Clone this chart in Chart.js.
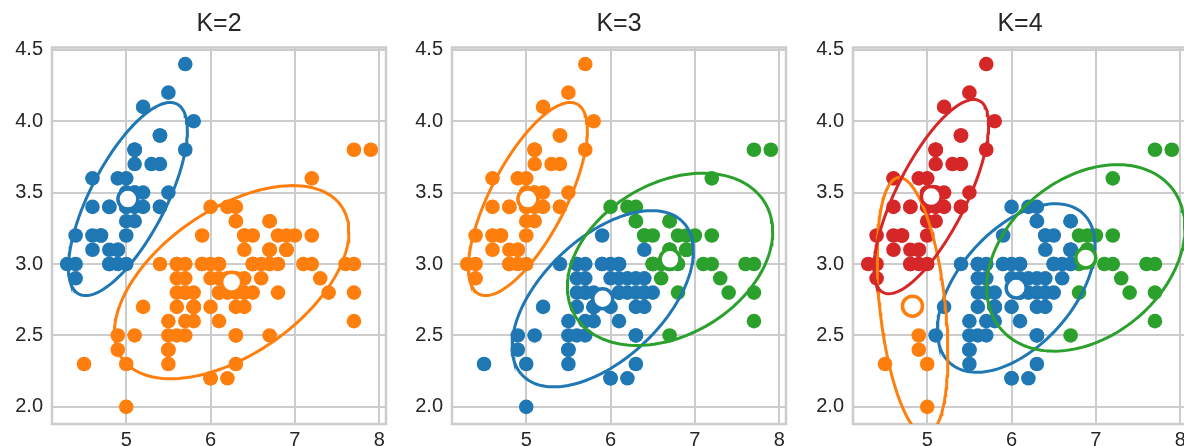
<!DOCTYPE html>
<html><head><meta charset="utf-8">
<script src="https://cdn.jsdelivr.net/npm/chart.js@4.4.1/dist/chart.umd.min.js"></script>
<style>
html,body{margin:0;padding:0;background:#fff;width:1184px;height:446px;overflow:hidden;position:relative;}
.panel{position:absolute;top:0;width:400px;height:446px;}
canvas{display:block;}
</style></head><body>
<div class="panel" style="left:0px"><canvas id="c0" width="400" height="446"></canvas></div>
<div class="panel" style="left:400px"><canvas id="c1" width="400" height="446"></canvas></div>
<div class="panel" style="left:801px"><canvas id="c2" width="400" height="446"></canvas></div>
<script>
// Iris sepal length / sepal width (150 flowers)
const sepalLength = [5.1,4.9,4.7,4.6,5.0,5.4,4.6,5.0,4.4,4.9,5.4,4.8,4.8,4.3,5.8,5.7,5.4,5.1,5.7,5.1,5.4,5.1,4.6,5.1,4.8,5.0,5.0,5.2,5.2,4.7,4.8,5.4,5.2,5.5,4.9,5.0,5.5,4.9,4.4,5.1,5.0,4.5,4.4,5.0,5.1,4.8,5.1,4.6,5.3,5.0,
7.0,6.4,6.9,5.5,6.5,5.7,6.3,4.9,6.6,5.2,5.0,5.9,6.0,6.1,5.6,6.7,5.6,5.8,6.2,5.6,5.9,6.1,6.3,6.1,6.4,6.6,6.8,6.7,6.0,5.7,5.5,5.5,5.8,6.0,5.4,6.0,6.7,6.3,5.6,5.5,5.5,6.1,5.8,5.0,5.6,5.7,5.7,6.2,5.1,5.7,
6.3,5.8,7.1,6.3,6.5,7.6,4.9,7.3,6.7,7.2,6.5,6.4,6.8,5.7,5.8,6.4,6.5,7.7,7.7,6.0,6.9,5.6,7.7,6.3,6.7,7.2,6.2,6.1,6.4,7.2,7.4,7.9,6.4,6.3,6.1,7.7,6.3,6.4,6.0,6.9,6.7,6.9,5.8,6.8,6.7,6.7,6.3,6.5,6.2,5.9];
const sepalWidth = [3.5,3.0,3.2,3.1,3.6,3.9,3.4,3.4,2.9,3.1,3.7,3.4,3.0,3.0,4.0,4.4,3.9,3.5,3.8,3.8,3.4,3.7,3.6,3.3,3.4,3.0,3.4,3.5,3.4,3.2,3.1,3.4,4.1,4.2,3.1,3.2,3.5,3.6,3.0,3.4,3.5,2.3,3.2,3.5,3.8,3.0,3.8,3.2,3.7,3.3,
3.2,3.2,3.1,2.3,2.8,2.8,3.3,2.4,2.9,2.7,2.0,3.0,2.2,2.9,2.9,3.1,3.0,2.7,2.2,2.5,3.2,2.8,2.5,2.8,2.9,3.0,2.8,3.0,2.9,2.6,2.4,2.4,2.7,2.7,3.0,3.4,3.1,2.3,3.0,2.5,2.6,3.0,2.6,2.3,2.7,3.0,2.9,2.9,2.5,2.8,
3.3,2.7,3.0,2.9,3.0,3.0,2.5,2.9,2.5,3.6,3.2,2.7,3.0,2.5,2.8,3.2,3.0,3.8,2.6,2.2,3.2,2.8,2.8,2.7,3.3,3.2,2.8,3.0,2.8,3.0,2.8,3.8,2.8,2.8,2.6,3.0,3.4,3.1,3.0,3.1,3.1,3.1,2.7,3.2,3.3,3.0,2.5,3.0,3.4,3.0];

// cluster labels per flower (0 blue, 1 orange, 2 green, 3 red)
const labelsK2 = [0,0,0,0,0,0,0,0,0,0,0,0,0,0,0,0,0,0,0,0,0,0,0,0,0,0,0,0,0,0,0,0,0,0,0,0,0,0,0,0,0,1,0,0,0,0,0,0,0,0,
1,1,1,1,1,1,1,1,1,1,1,1,1,1,1,1,1,1,1,1,1,1,1,1,1,1,1,1,1,1,1,1,1,1,1,1,1,1,1,1,1,1,1,1,1,1,1,1,1,1,
1,1,1,1,1,1,1,1,1,1,1,1,1,1,1,1,1,1,1,1,1,1,1,1,1,1,1,1,1,1,1,1,1,1,1,1,1,1,1,1,1,1,1,1,1,1,1,1,1,1];
const labelsK3 = [1,1,1,1,1,1,1,1,1,1,1,1,1,1,1,1,1,1,1,1,1,1,1,1,1,1,1,1,1,1,1,1,1,1,1,1,1,1,1,1,1,0,1,1,1,1,1,1,1,1,
2,2,2,0,0,0,2,0,2,0, 0,0,0,0,0,2,0,0,0,0, 0,0,0,0,0,2,2,2,0,0, 0,0,0,0,0,2,2,0,0,0, 0,0,0,0,0,0,0,0,0,0,
2,0,2,0,2,2,0,2,2,2, 2,0,2,0,0,2,2,2,2,0, 2,0,2,0,2,2,0,0,0,2, 2,2,0,0,0,2,2,0,0,2, 2,2,0,2,2,2,0,2,2,0];
const labelsK4 = [3,3,3,3,3,3,3,3,3,3,3,3,3,3,3,3,3,3,3,3,3,3,3,3,3,3,3,3,3,3,3,3,3,3,3,3,3,3,3,3,3,1,3,3,3,3,3,3,3,3,
2,0,2,0,0,0,0,1,0,0, 1,0,0,0,0,0,0,0,0,0, 0,0,0,0,0,0,2,0,0,0, 0,0,0,0,0,0,0,0,0,0, 0,0,0,1,0,0,0,0,0,0,
0,0,2,0,0,2,1,2,2,2, 0,0,2,0,0,0,0,2,2,0, 2,0,2,0,0,2,0,0,0,2, 2,2,0,0,0,2,0,0,0,2, 0,2,0,2,0,0,0,0,0,0];

// component means [x, y] by cluster index
const meansK2 = [[5.02,3.455],[6.25,2.873]];
const meansK3 = [[5.907,2.757],[5.02,3.455],[6.705,3.033]];
const meansK4 = [[6.055,2.832],[4.825,2.705],[6.88,3.043],[5.048,3.472]];
// component ellipse spread [half-width x, half-height y, correlation]
const spreadK2 = [[0.705,0.676,0.71],[1.39,0.676,0.52]];
const spreadK3 = [[1.075,0.617,0.54],[0.705,0.676,0.71],[1.217,0.603,0.32]];
const spreadK4 = [[0.935,0.59,0.5],[0.42,0.90,-0.37],[1.175,0.653,0.32],[0.68,0.68,0.74]];

const titles = ['K=2','K=3','K=4'];
const xTicks = [5,6,7,8];
const yTicks = [2.0,2.5,3.0,3.5,4.0,4.5];

const palette = ['#1f77b4','#ff7f0e','#2ca02c','#d62728'];
const FONT = "'Liberation Sans', Arial, sans-serif";
const TXT = '#262626';

function ellipsePts(mean, spread){
  const cx=mean[0], cy=mean[1], sx=spread[0], sy=spread[1], r=spread[2];
  const q=Math.sqrt(1-r*r), pts=[];
  for(let i=0;i<=160;i++){
    const t=i/160*2*Math.PI;
    pts.push({x:cx+sx*Math.cos(t), y:cy+sy*(r*Math.cos(t)+q*Math.sin(t))});
  }
  return pts;
}

const framePlugin = {
  id:'frame',
  beforeDatasetsDraw(chart){
    const a=chart.chartArea, ctx=chart.ctx;
    ctx.save(); ctx.strokeStyle='#cccccc'; ctx.lineWidth=2.5;
    ctx.strokeRect(a.left, a.top, a.right-a.left, a.bottom-a.top);
    ctx.restore();
  }
};

function makeChart(id, title, labels, means, spreads){
  const ds=[];
  ds.push({data: sepalLength.map((x,i)=>({x:x, y:sepalWidth[i]})), pointRadius:7.3, pointBorderWidth:0,
    pointBackgroundColor: labels.map(k=>palette[k]), showLine:false, order:20});
  means.forEach((m,k)=>{
    ds.push({data: ellipsePts(m, spreads[k]), showLine:true, borderColor:palette[k], borderWidth:3,
      pointRadius:0, fill:false, order:10-k, clip:0});
  });
  ds.push({data: means.map(m=>({x:m[0], y:m[1]})), pointRadius:10, pointBorderWidth:3.5,
    pointBackgroundColor:'#ffffff', pointBorderColor: means.map((m,k)=>palette[k]), showLine:false, order:0});
  return new Chart(document.getElementById(id), {
    type:'scatter',
    data:{datasets:ds},
    plugins:[framePlugin],
    options:{
      responsive:false, animation:false, events:[], devicePixelRatio:1,
      layout:{padding:{left:0,right:14,top:0,bottom:0}},
      plugins:{
        legend:{display:false}, tooltip:{enabled:false},
        title:{display:true, text:title, color:TXT, fullSize:false,
          font:{family:FONT, size:25, weight:'normal', lineHeight:1.2},
          padding:{top:9, bottom:8.5}}
      },
      scales:{
        x:{type:'linear', min:4.12, max:8.08,
          afterBuildTicks:s=>{s.ticks=xTicks.map(v=>({value:v}));},
          afterFit:s=>{s.height=22;},
          ticks:{autoSkip:false, maxRotation:0, padding:4, color:TXT, font:{family:FONT,size:20},
            callback:v=>String(v)},
          grid:{color:'#cccccc', lineWidth:2, drawTicks:false},
          border:{display:false}},
        y:{type:'linear', min:1.88, max:4.516,
          afterBuildTicks:s=>{s.ticks=yTicks.map(v=>({value:v}));},
          afterFit:s=>{s.width=52;},
          ticks:{autoSkip:false, padding:9, color:TXT, font:{family:FONT,size:20},
            callback:v=>Number(v).toFixed(1)},
          grid:{color:'#cccccc', lineWidth:2, drawTicks:false},
          border:{display:false}}
      }
    }
  });
}

makeChart('c0', titles[0], labelsK2, meansK2, spreadK2);
makeChart('c1', titles[1], labelsK3, meansK3, spreadK3);
makeChart('c2', titles[2], labelsK4, meansK4, spreadK4);
</script>
</body></html>
